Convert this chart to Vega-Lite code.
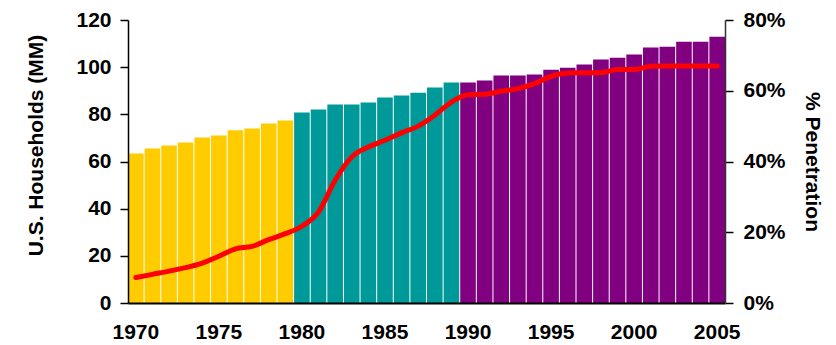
{
  "$schema": "https://vega.github.io/schema/vega-lite/v6.json",
  "width": 597,
  "height": 283,
  "autosize": {"type": "none"},
  "padding": {"left": 128, "top": 20, "right": 111, "bottom": 42},
  "background": "white",
  "config": {
    "view": {"stroke": null},
    "font": "Liberation Sans",
    "axis": {"grid": false, "labelFont": "Liberation Sans", "titleFont": "Liberation Sans", "labelFontWeight": "bold", "titleFontWeight": "bold", "labelColor": "#000000", "titleColor": "#000000", "domainColor": "#000000", "tickColor": "#000000"}
  },
  "data": {
    "values": [
      {"year": 1970, "households": 63.4, "penetration": 0.072, "period": "1970s"},
      {"year": 1971, "households": 65.5, "penetration": 0.081, "period": "1970s"},
      {"year": 1972, "households": 66.8, "penetration": 0.090, "period": "1970s"},
      {"year": 1973, "households": 68.1, "penetration": 0.100, "period": "1970s"},
      {"year": 1974, "households": 70.2, "penetration": 0.113, "period": "1970s"},
      {"year": 1975, "households": 71.0, "penetration": 0.132, "period": "1970s"},
      {"year": 1976, "households": 73.2, "penetration": 0.153, "period": "1970s"},
      {"year": 1977, "households": 74.0, "penetration": 0.160, "period": "1970s"},
      {"year": 1978, "households": 76.1, "penetration": 0.179, "period": "1970s"},
      {"year": 1979, "households": 77.4, "penetration": 0.196, "period": "1970s"},
      {"year": 1980, "households": 80.8, "penetration": 0.217, "period": "1980s"},
      {"year": 1981, "households": 82.0, "penetration": 0.257, "period": "1980s"},
      {"year": 1982, "households": 84.2, "penetration": 0.347, "period": "1980s"},
      {"year": 1983, "households": 84.2, "penetration": 0.413, "period": "1980s"},
      {"year": 1984, "households": 85.0, "penetration": 0.441, "period": "1980s"},
      {"year": 1985, "households": 87.1, "penetration": 0.460, "period": "1980s"},
      {"year": 1986, "households": 88.0, "penetration": 0.481, "period": "1980s"},
      {"year": 1987, "households": 89.2, "penetration": 0.500, "period": "1980s"},
      {"year": 1988, "households": 91.4, "penetration": 0.531, "period": "1980s"},
      {"year": 1989, "households": 93.5, "penetration": 0.568, "period": "1980s"},
      {"year": 1990, "households": 93.5, "penetration": 0.589, "period": "1990s"},
      {"year": 1991, "households": 94.3, "penetration": 0.590, "period": "1990s"},
      {"year": 1992, "households": 96.5, "penetration": 0.599, "period": "1990s"},
      {"year": 1993, "households": 96.5, "penetration": 0.606, "period": "1990s"},
      {"year": 1994, "households": 96.9, "penetration": 0.620, "period": "1990s"},
      {"year": 1995, "households": 98.9, "penetration": 0.641, "period": "1990s"},
      {"year": 1996, "households": 99.8, "penetration": 0.650, "period": "1990s"},
      {"year": 1997, "households": 101.1, "penetration": 0.651, "period": "1990s"},
      {"year": 1998, "households": 103.2, "penetration": 0.651, "period": "1990s"},
      {"year": 1999, "households": 104.0, "penetration": 0.660, "period": "1990s"},
      {"year": 2000, "households": 105.4, "penetration": 0.660, "period": "1990s"},
      {"year": 2001, "households": 108.3, "penetration": 0.669, "period": "1990s"},
      {"year": 2002, "households": 108.7, "penetration": 0.670, "period": "1990s"},
      {"year": 2003, "households": 110.8, "penetration": 0.670, "period": "1990s"},
      {"year": 2004, "households": 110.8, "penetration": 0.670, "period": "1990s"},
      {"year": 2005, "households": 112.9, "penetration": 0.670, "period": "1990s"}
    ]
  },
  "encoding": {
    "x": {
      "field": "year",
      "type": "ordinal",
      "scale": {"paddingInner": 0.06, "paddingOuter": 0},
      "axis": {
        "title": null,
        "values": [1970, 1975, 1980, 1985, 1990, 1995, 2000, 2005],
        "labelAngle": 0,
        "labelFontSize": 21,
        "labelPadding": 18,
        "ticks": false,
        "domainWidth": 2,
        "zindex": 2
      }
    }
  },
  "layer": [
    {
      "mark": {"type": "bar"},
      "encoding": {
        "y": {
          "field": "households",
          "type": "quantitative",
          "scale": {"domain": [0, 120], "nice": false},
          "axis": {
            "title": "U.S. Households (MM)",
            "titleFontSize": 21,
            "titlePadding": 29,
            "titleY": 125,
            "values": [0, 20, 40, 60, 80, 100, 120],
            "labelFontSize": 21,
            "labelPadding": 9,
            "tickSize": 8,
            "tickWidth": 1.5,
            "domainWidth": 1.5,
            "zindex": 2
          }
        },
        "color": {
          "field": "period",
          "type": "nominal",
          "scale": {"domain": ["1970s", "1980s", "1990s"], "range": ["#FFCC00", "#009999", "#800080"]},
          "legend": null
        }
      }
    },
    {
      "mark": {"type": "line", "color": "#FF0000", "strokeWidth": 5, "interpolate": "monotone", "strokeCap": "round"},
      "encoding": {
        "y": {
          "field": "penetration",
          "type": "quantitative",
          "scale": {"domain": [0, 0.8], "nice": false},
          "axis": {
            "orient": "right",
            "title": "% Penetration",
            "titleFontSize": 21,
            "titlePadding": 16,
            "values": [0, 0.2, 0.4, 0.6, 0.8],
            "format": ".0%",
            "labelFontSize": 21,
            "labelPadding": 10,
            "tickSize": 8,
            "tickWidth": 1.5,
            "domainWidth": 1.5,
            "domainColor": "#333333",
            "zindex": 2
          }
        }
      }
    }
  ],
  "resolve": {"scale": {"y": "independent", "color": "independent"}}
}
